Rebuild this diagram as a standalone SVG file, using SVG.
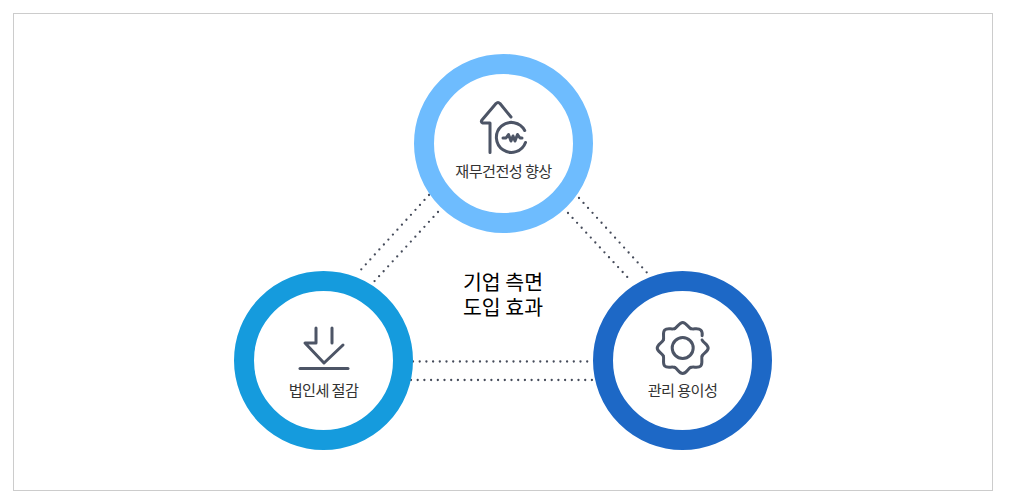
<svg xmlns="http://www.w3.org/2000/svg" width="1015" height="504" viewBox="0 0 1015 504">
<style>
.ring{fill:#fff;stroke-width:20}
.dot{fill:none;stroke:#454b5a;stroke-width:2.3;stroke-linecap:round;stroke-dasharray:0 6.7}
.ico{fill:none;stroke:#4d5566;stroke-width:3;stroke-linecap:round;stroke-linejoin:round}
.lab{font-family:"Noto Sans CJK KR","Noto Sans",sans-serif;font-size:15.2px;fill:#333;text-anchor:middle;letter-spacing:-.6px}
.ttl{font-family:"Noto Sans CJK KR","Noto Sans",sans-serif;font-size:20.500px;fill:#000;text-anchor:middle}
</style>
<defs>
<path id="lobe" d="M-8.040-19.400C-5.270-20.550-3.500-25.500 0-25.500S5.270-20.550 8.040-19.400"/>
</defs>
<rect x="13.5" y="13.5" width="979" height="477" fill="#fff" stroke="#ccc"/>
<g id="connectors">
<path class="dot" d="M429 195L357 274"/>
<path class="dot" d="M438 212L371 285"/>
<path class="dot" d="M579 198L650 276"/>
<path class="dot" d="M568 213L631 281"/>
<path class="dot" d="M413 361.500H592"/>
<path class="dot" d="M411 380H595"/>
</g>
<g id="node-top">
<circle class="ring" cx="503.500" cy="143.500" r="79.500" stroke="#6ebcfe"/>
<path class="ico" d="M490 152.500V123H482.500Q480.500 122 482 120L496 103.500Q498 101.500 500 103.500L511 117"/>
<path class="ico" d="M524.700 130.500A15 15 0 1 0 525.500 142.500"/>
<path class="ico" d="M503 138H506L508.500 134.500L511 141L513 136L515 141L517.500 134.500L520 138H522"/>
<text class="lab" x="503.500" y="177">재무건전성 향상</text>
</g>
<g id="node-left">
<circle class="ring" cx="323.500" cy="360.500" r="79.500" stroke="#159bdd"/>
<path class="ico" d="M316 328V343H305L324 363L343 345"/>
<path class="ico" d="M332 328V343"/>
<path class="ico" d="M300 368.500H348"/>
<text class="lab" x="323.500" y="396">법인세 절감</text>
</g>
<g id="node-right">
<circle class="ring" cx="682.500" cy="360.500" r="79.500" stroke="#1d68c6"/>
<g class="ico" transform="translate(682.700 348)">
<use href="#lobe"/>
<path transform="rotate(45)" d="M-8.040-19.400C-5.270-20.550-3.500-25.500 0-25.500C2.500-25.500 3.500-24.500 5-22.500"/>
<use href="#lobe" transform="rotate(90)"/>
<use href="#lobe" transform="rotate(135)"/>
<use href="#lobe" transform="rotate(180)"/>
<use href="#lobe" transform="rotate(225)"/>
<use href="#lobe" transform="rotate(270)"/>
<use href="#lobe" transform="rotate(315)"/>
</g>
<circle class="ico" cx="682.700" cy="348" r="10.500"/>
<text class="lab" x="682.500" y="396">관리 용이성</text>
</g>
<g id="center-label">
<text class="ttl"><tspan x="503" y="290">기업 측면</tspan><tspan x="503" y="315">도입 효과</tspan></text>
</g>
</svg>
